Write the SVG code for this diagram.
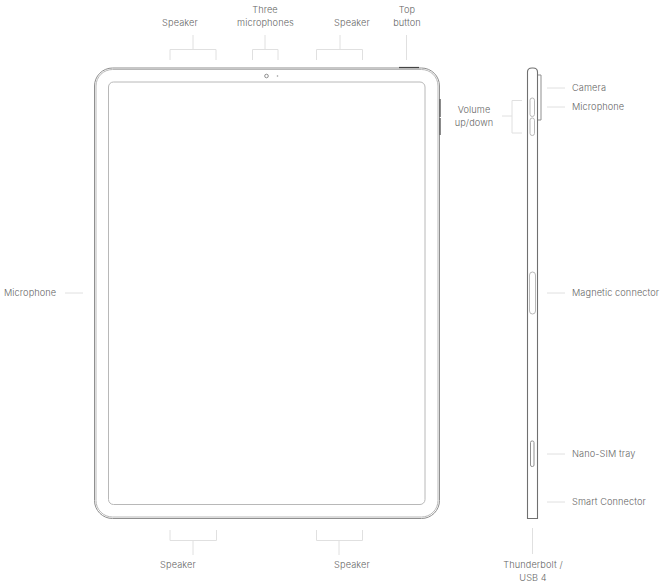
<svg xmlns="http://www.w3.org/2000/svg" width="664" height="588" viewBox="0 0 664 588">
<style>
text{font-family:"Inter","Liberation Sans",sans-serif;font-size:9.2px;font-weight:300;fill:#666;letter-spacing:.1px}
.m{text-anchor:middle}
.c{fill:none;stroke:#e0e0e0;stroke-width:1}
.o{fill:none;stroke:#8f8f8f;stroke-width:1}
.l{fill:none;stroke:#b8b8b8;stroke-width:1}
</style>
<rect width="664" height="588" fill="#fff"/>
<g id="tablet-front">
<rect class="o" x="94.500" y="68" width="345" height="450.500" rx="18"/>
<rect class="l" x="96" y="69.500" width="342" height="447.500" rx="16.500"/>
<rect class="l" x="108.500" y="82" width="316.500" height="422.500" rx="5"/>
<circle class="o" cx="266.500" cy="76" r="1.800"/>
<circle cx="277.500" cy="76" r=".8" fill="#999"/>
<path d="M399 67.500H419" style="stroke:#444;stroke-width:1.200;fill:none"/>
<path d="M440 99V117M440 118V135" style="stroke:#666;stroke-width:1.500;fill:none"/>
</g>
<g id="tablet-side">
<path d="M527.500 72Q527.500 68 532 68H533Q537.500 68 537.500 72V518.500H527.500Z" style="fill:none;stroke:#707070;stroke-width:1.100"/>
<path class="o" d="M538 75H541V120H538"/>
<rect class="l" x="530" y="98" width="4.500" height="18.500" rx="2.200"/>
<rect class="l" x="530" y="118" width="4.500" height="17.500" rx="2.200"/>
<rect class="l" x="529.500" y="272" width="6" height="42" rx="3"/>
<rect class="o" x="530.500" y="441" width="3.500" height="25.500" rx="1.500"/>
</g>
<g id="connectors">
<path class="c" d="M170 60V49.500H216V60M193 49.500V35"/>
<path class="c" d="M252.500 60V49.500H278V60M265 49.500V35"/>
<path class="c" d="M316.500 60V49.500H362.500V60M340 49.500V35"/>
<path class="c" d="M406.500 35V60"/>
<path class="c" d="M170 530V540.500H216.500V530M193 540.500V555"/>
<path class="c" d="M316.500 530V540.500H362.500V530M339 540.500V555"/>
<path class="c" d="M65 293H83"/>
<path class="c" d="M522 100.500H512V133H522M512 116H502"/>
<path class="c" d="M547 88H565M547 107H565M547 293H565M547 454H565M547 502H565"/>
<path class="c" d="M532.500 528V554"/>
</g>
<g id="labels">
<text class="m" x="180" y="26">Speaker</text>
<text class="m" x="265" y="13">Three</text>
<text class="m" x="265.500" y="26">microphones</text>
<text class="m" x="352" y="26">Speaker</text>
<text class="m" x="407" y="13">Top</text>
<text class="m" x="407" y="26">button</text>
<text x="4" y="296">Microphone</text>
<text class="m" x="474" y="113">Volume</text>
<text class="m" x="474" y="126">up/down</text>
<text x="572" y="91">Camera</text>
<text x="572" y="110">Microphone</text>
<text x="572" y="296">Magnetic connector</text>
<text x="572" y="457">Nano-SIM tray</text>
<text x="572" y="505">Smart Connector</text>
<text class="m" x="178" y="568">Speaker</text>
<text class="m" x="352" y="568">Speaker</text>
<text class="m" x="533" y="568">Thunderbolt /</text>
<text class="m" x="533" y="581">USB 4</text>
</g>
</svg>
